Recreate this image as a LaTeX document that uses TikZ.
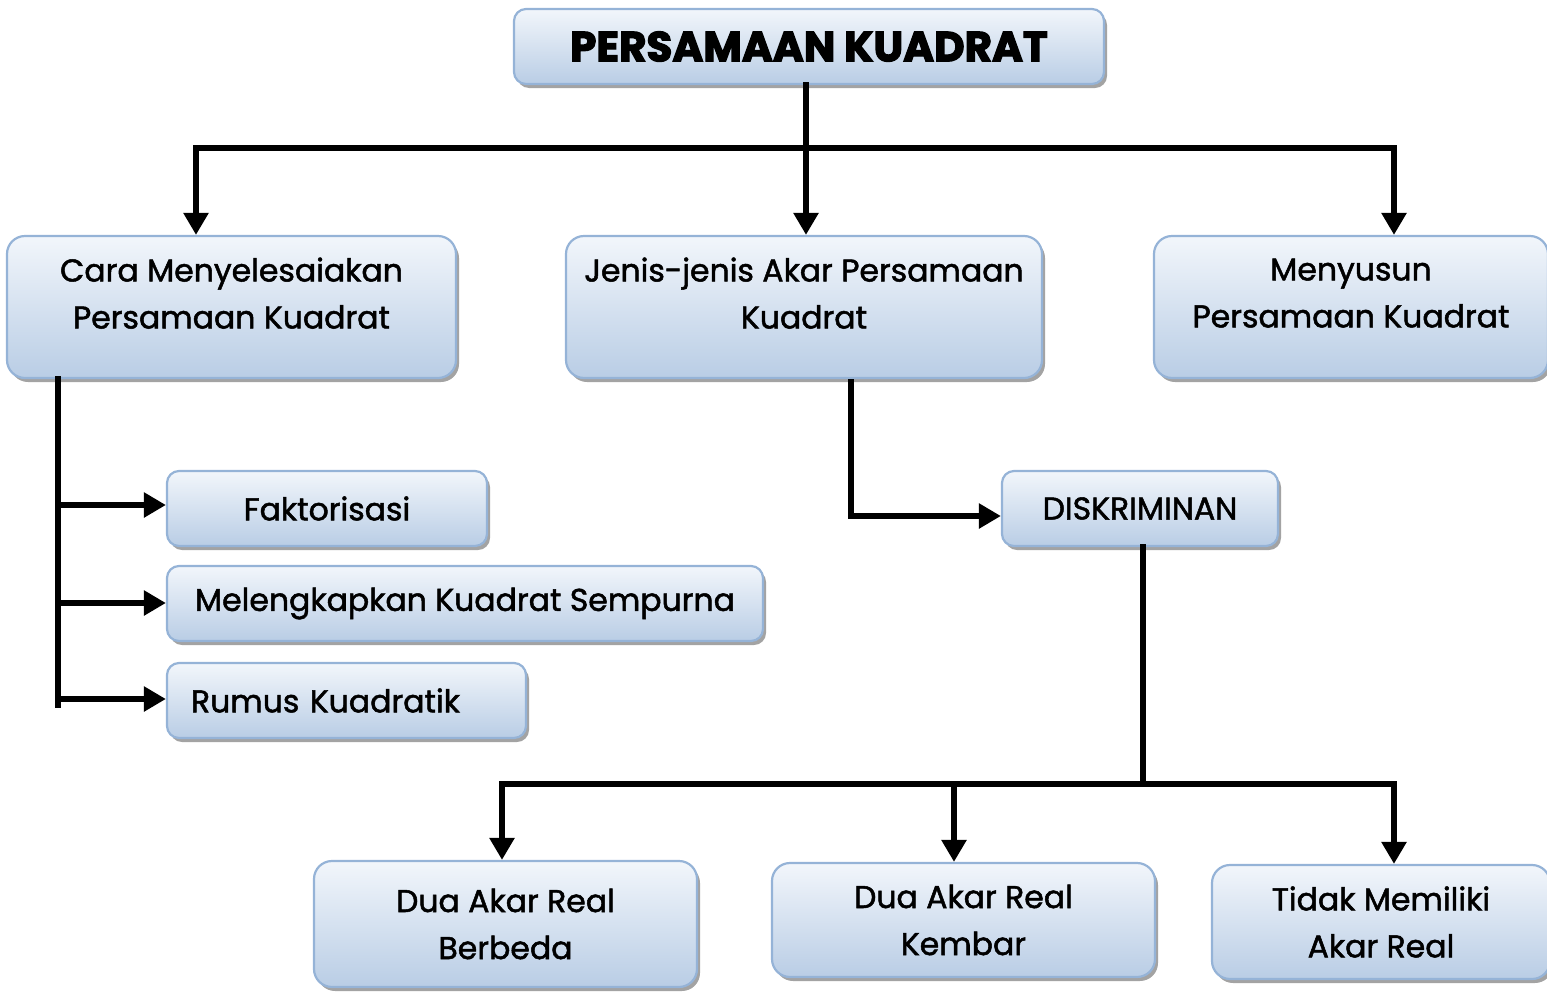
\documentclass[tikz,border=0pt]{standalone}
\usepackage{fontspec}
\setmainfont{Poppins}
\newfontfamily\bodyfont{Poppins}[FakeBold=1.6]
\newfontfamily\titlefont{Poppins}[BoldFeatures={FakeBold=3}]
\newcommand\lowr{\rule[-28pt]{0pt}{1pt}}
\usetikzlibrary{shadows,arrows.meta}
\definecolor{bordc}{HTML}{95B3D7}
\definecolor{topc}{HTML}{F2F6FB}
\definecolor{botc}{HTML}{B9CDE5}
\begin{document}
\begin{tikzpicture}[x=1pt,y=-1pt,
  box/.style={draw=bordc, line width=2.2pt, rounded corners=18pt,
    top color=topc, bottom color=botc,
    drop shadow={shadow xshift=3pt, shadow yshift=-4pt, fill=black!45, opacity=0.8},
    align=center, inner sep=0pt, font=\bodyfont\fontsize{31.5}{47}\selectfont},
  sbox/.style={box, rounded corners=12pt},
  ln/.style={line width=6pt, line cap=rect},
  conn/.style={line width=6pt, -{Triangle[length=22pt,width=24pt]}}]
\useasboundingbox (0,0) rectangle (1547,991);

\node[sbox, minimum width=590pt, minimum height=75pt, font=\titlefont\bfseries\fontsize{42}{46}\selectfont] (title) at (809,46.5) {PERSAMAAN KUADRAT};
\node[box, minimum width=449pt, minimum height=142pt] (cara) at (231.5,307) {Cara Menyelesaiakan\\Persamaan Kuadrat\lowr};
\node[box, minimum width=476pt, minimum height=142pt] (jenis) at (804,307) {Jenis-jenis Akar Persamaan\\Kuadrat\lowr};
\node[box, minimum width=394pt, minimum height=142pt] (susun) at (1351,307) {Menyusun\\Persamaan Kuadrat\lowr};

\node[sbox, minimum width=320pt, minimum height=75pt] (fakt) at (327,508.5) {Faktorisasi};
\node[sbox, minimum width=596pt, minimum height=75pt] (leng) at (465,603.5) {Melengkapkan Kuadrat Sempurna};
\node[sbox, minimum width=359pt, minimum height=75pt, text width=311pt, align=left] (rumus) at (346.5,700.5) {Rumus Kuadratik};
\node[sbox, minimum width=276pt, minimum height=75pt] (disk) at (1140,508.5) {DISKRIMINAN};

\node[box, minimum width=383pt, minimum height=126pt] (beda) at (505.5,924) {Dua Akar Real\\Berbeda};
\node[box, minimum width=383pt, minimum height=114pt] (kembar) at (963.5,920) {Dua Akar Real\\Kembar};
\node[box, minimum width=338pt, minimum height=114pt] (tidak) at (1381,922) {Tidak Memiliki\\Akar Real};

% top level
\coordinate (tj) at (806,148);
\coordinate (hl) at (196,148);
\coordinate (hr) at (1394,148);
\draw[ln] (title.south -| tj) -- (tj);
\draw[ln] (hl) -- (hr);
\draw[conn] (hl) -- (hl |- cara.north);
\draw[conn] (tj) -- (tj |- jenis.north);
\draw[conn] (hr) -- (hr |- susun.north);

% cara branch
\coordinate (cv) at (58,705);
\coordinate (c1) at (58,505);
\coordinate (c2) at (58,603);
\coordinate (c3) at (58,699);
\draw[ln] (cara.south -| cv) -- (cv);
\draw[conn] (c1) -- (c1 -| fakt.west);
\draw[conn] (c2) -- (c2 -| leng.west);
\draw[conn] (c3) -- (c3 -| rumus.west);

% jenis branch
\coordinate (jd) at (851,516);
\draw[conn] (jenis.south -| jd) -- (jd) -- (jd -| disk.west);

% diskriminan branch
\coordinate (dv) at (1143,784);
\coordinate (dl) at (502,784);
\coordinate (dm) at (954,784);
\coordinate (dr) at (1394,784);
\draw[ln] (disk.south -| dv) -- (dv);
\draw[ln] (dl) -- (dr);
\draw[conn] (dl) -- (dl |- beda.north);
\draw[conn] (dm) -- (dm |- kembar.north);
\draw[conn] (dr) -- (dr |- tidak.north);
\end{tikzpicture}
\end{document}
